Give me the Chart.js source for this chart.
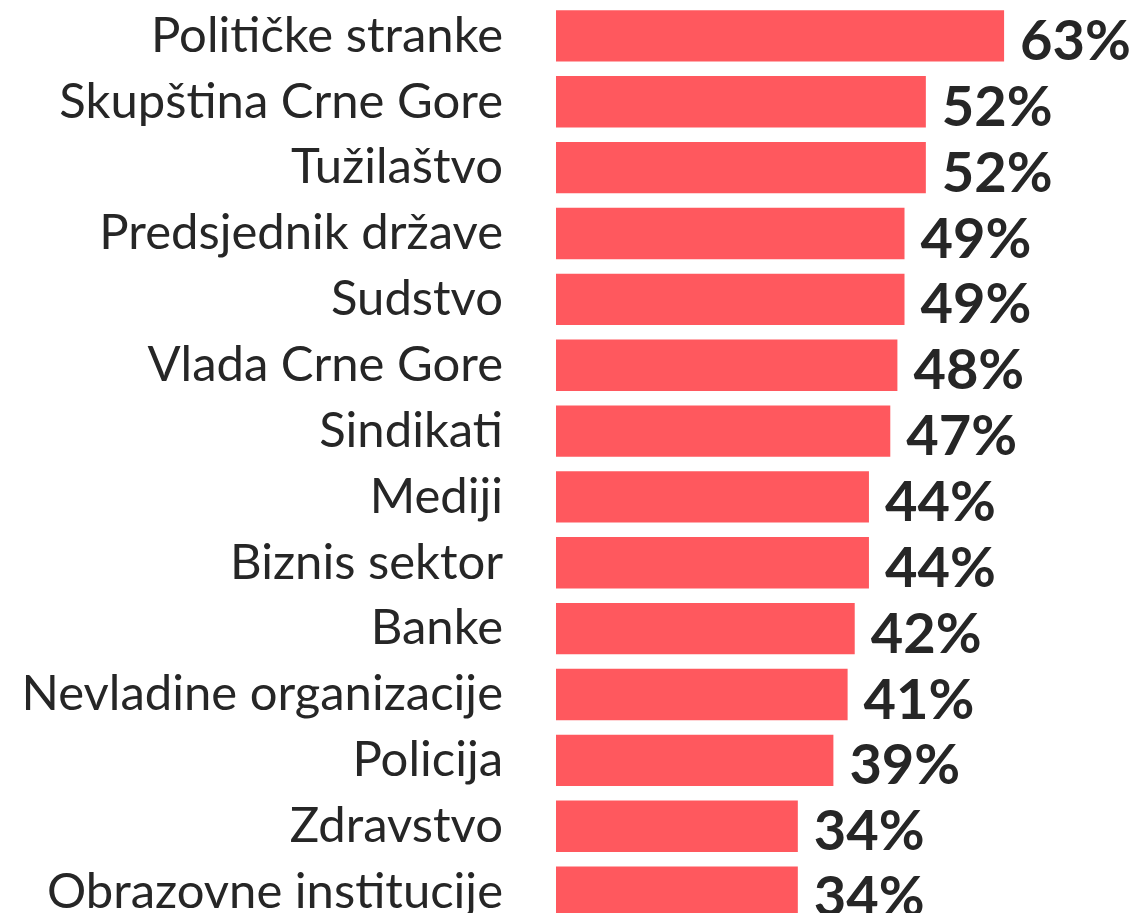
<!DOCTYPE html>
<html>
<head>
<meta charset="utf-8">
<script src="https://cdn.jsdelivr.net/npm/chart.js@4"></script>
<style>
  html, body { margin: 0; padding: 0; background: #fff; overflow: hidden; }
  #wrap { position: relative; width: 1135px; height: 930px; }
</style>
</head>
<body>
<div id="wrap"><canvas id="chart"></canvas></div>
<script>
// categories, top to bottom
const institutions = [
    'Političke stranke',
    'Skupština Crne Gore',
    'Tužilaštvo',
    'Predsjednik države',
    'Sudstvo',
    'Vlada Crne Gore',
    'Sindikati',
    'Mediji',
    'Biznis sektor',
    'Banke',
    'Nevladine organizacije',
    'Policija',
    'Zdravstvo',
    'Obrazovne institucije'
];
const shares = [63, 52, 52, 49, 49, 48, 47, 44, 44, 42, 41, 39, 34, 34];

const BAR_COLOR = '#ff585e';
const TEXT_COLOR = '#262626';

// value labels right of each bar
const valueLabels = {
    id: 'valueLabels',
    afterDatasetsDraw(chart) {
        const ctx = chart.ctx;
        const meta = chart.getDatasetMeta(0);
        ctx.save();
        ctx.font = 'bold 56px Lato';
        ctx.fillStyle = TEXT_COLOR;
        ctx.textAlign = 'left';
        ctx.textBaseline = 'middle';
        meta.data.forEach((bar, i) => {
            ctx.fillText(shares[i] + '%', bar.x + 16, bar.y + 6);
        });
        ctx.restore();
    }
};

new Chart(document.getElementById('chart'), {
    type: 'bar',
    data: {
        labels: institutions,
        datasets: [{
            data: shares,
            backgroundColor: BAR_COLOR,
            barPercentage: 0.78,
            categoryPercentage: 1.0
        }]
    },
    options: {
        indexAxis: 'y',
        responsive: true,
        maintainAspectRatio: false,
        animation: false,
        layout: { padding: { top: 3, bottom: 5, right: 10, left: 0 } },
        plugins: {
            legend: { display: false },
            tooltip: { enabled: false }
        },
        scales: {
            x: {
                display: false,
                min: 0,
                max: 80
            },
            y: {
                grid: { display: false, drawTicks: false },
                border: { display: false },
                ticks: {
                    color: TEXT_COLOR,
                    font: { family: 'Lato', size: 49 },
                    padding: 53
                },
                afterFit(scale) {
                    scale.width = 556;
                    scale.paddingTop = 0;
                    scale.paddingBottom = 0;
                }
            }
        }
    },
    plugins: [valueLabels]
});
</script>
</body>
</html>
